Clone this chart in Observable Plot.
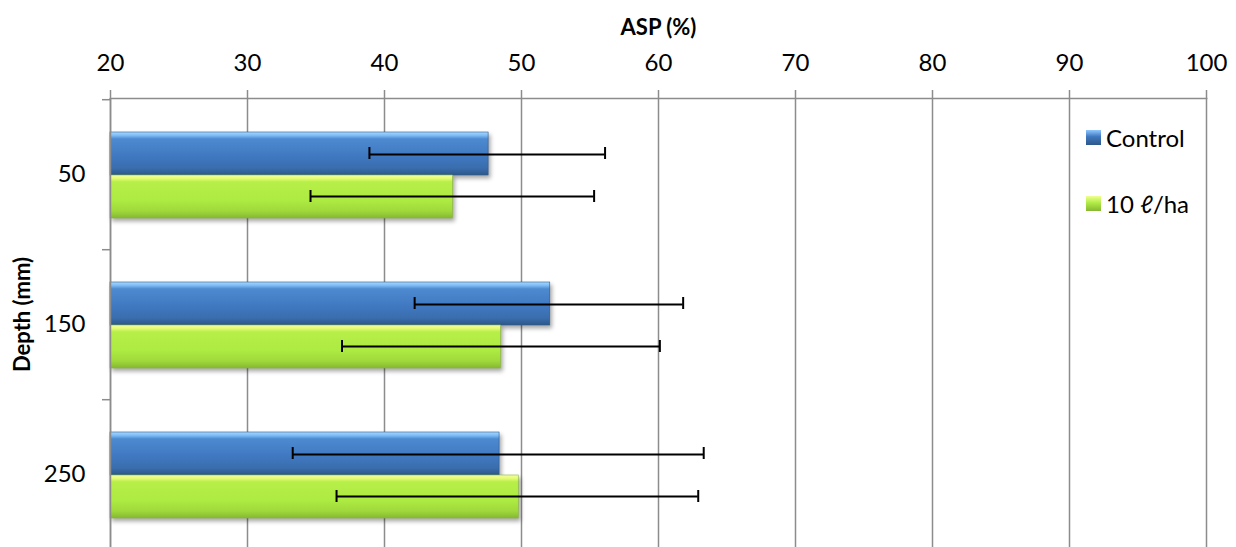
<!DOCTYPE html>
<html>
<head>
<meta charset="utf-8">
<script src="https://cdn.jsdelivr.net/npm/d3@7"></script>
<script src="https://cdn.jsdelivr.net/npm/@observablehq/plot@0.6"></script>
<style>
  html, body { margin: 0; padding: 0; background: #fff; overflow: hidden; }
  #wrap { position: relative; width: 1236px; height: 547px; font-family: Lato, "Open Sans", sans-serif; }
  .leg { position: absolute; display: flex; align-items: center; font-size: 24px; color: #000; white-space: nowrap; }
  .sw { width: 15px; height: 15px; margin-right: 5px; }
</style>
</head>
<body>
<div id="wrap"></div>
<script>
const depths = ["50", "150", "250"];
const seriesNames = ["Control", "10 ℓ/ha"];
const controlMean = [47.6, 52.1, 48.4];
const controlLow  = [38.9, 42.2, 33.3];
const controlHigh = [56.1, 61.8, 63.3];
const treatMean   = [45.0, 48.5, 49.8];
const treatLow    = [34.6, 36.9, 36.5];
const treatHigh   = [55.3, 60.1, 62.9];
const xTicks = [20, 30, 40, 50, 60, 70, 80, 90, 100];
const xLabel = "ASP (%)";
const yLabel = "Depth (mm)";

const control = depths.map((d, i) => ({depth: d, mean: controlMean[i], lo: controlLow[i], hi: controlHigh[i]}));
const treat = depths.map((d, i) => ({depth: d, mean: treatMean[i], lo: treatLow[i], hi: treatHigh[i]}));
const xMin = xTicks[0];
const grey = "#8c8c8c";
const shadow = "drop-shadow(2px 3px 2px rgba(0,0,0,0.35))";

const chart = Plot.plot({
  width: 1236,
  height: 550,
  marginTop: 98,
  marginLeft: 110,
  marginRight: 30,
  marginBottom: 0,
  style: {fontFamily: 'Lato, "Open Sans", sans-serif', fontSize: "24px", color: "#000", background: "#fff"},
  x: {domain: [xTicks[0], xTicks[xTicks.length - 1]]},
  y: {domain: depths, padding: 0},
  marks: [
    Plot.gridX(xTicks, {stroke: grey, strokeOpacity: 1, strokeWidth: 1.5}),
    Plot.frame({anchor: "top", stroke: grey, strokeWidth: 1.5}),
    Plot.axisX({anchor: "top", ticks: xTicks, tickSize: 9, tickPadding: 19, stroke: grey, strokeWidth: 1.5, label: null, fontSize: 24, fill: "#000"}),
    Plot.axisY({anchor: "left", tickSize: 0, tickPadding: 25, label: null, fontSize: 24, fill: "#000"}),
    Plot.axisY({anchor: "left", tickSize: 8, tickFormat: () => "", label: null, stroke: grey, strokeWidth: 1.5, dy: -74.8}),
    Plot.barX(control, {y: "depth", x1: xMin, x2: "mean", fill: "url(#gBlue)", stroke: "#2f5a8c", strokeWidth: 0.6, insetTop: 33, insetBottom: 74, imageFilter: shadow}),
    Plot.barX(treat, {y: "depth", x1: xMin, x2: "mean", fill: "url(#gGreen)", stroke: "#88b838", strokeWidth: 0.6, insetTop: 76, insetBottom: 31, imageFilter: shadow}),
    Plot.ruleX([xMin], {stroke: grey, strokeWidth: 1.5}),
    Plot.ruleY(control, {y: "depth", x1: "lo", x2: "hi", stroke: "#000", strokeWidth: 2, dy: -20}),
    Plot.tickX(control, {y: "depth", x: "lo", stroke: "#000", strokeWidth: 2, insetTop: 48, insetBottom: 90}),
    Plot.tickX(control, {y: "depth", x: "hi", stroke: "#000", strokeWidth: 2, insetTop: 48, insetBottom: 90}),
    Plot.ruleY(treat, {y: "depth", x1: "lo", x2: "hi", stroke: "#000", strokeWidth: 2, dy: 22}),
    Plot.tickX(treat, {y: "depth", x: "lo", stroke: "#000", strokeWidth: 2, insetTop: 91, insetBottom: 47}),
    Plot.tickX(treat, {y: "depth", x: "hi", stroke: "#000", strokeWidth: 2, insetTop: 91, insetBottom: 47}),
    Plot.text([xLabel], {frameAnchor: "top", dy: -79, fontWeight: "bold", fontSize: 22, fill: "#000"}),
    Plot.text([yLabel], {frameAnchor: "left", textAnchor: "middle", dx: -88, dy: -10, rotate: -90, fontWeight: "bold", fontSize: 22, fill: "#000"})
  ]
});

const svg = d3.select(chart);
const defs = svg.insert("defs", ":first-child");
function grad(id, stops) {
  const g = defs.append("linearGradient").attr("id", id).attr("x1", 0).attr("y1", 0).attr("x2", 0).attr("y2", 1);
  stops.forEach(([o, c]) => g.append("stop").attr("offset", o).attr("stop-color", c));
}
grad("gBlue", [["0%", "#a8d8ff"], ["8%", "#7dbcf5"], ["16%", "#4d8ad0"], ["60%", "#3f77bf"], ["84%", "#3a6dad"], ["100%", "#2d5888"]]);
grad("gGreen", [["0%", "#f4ff9c"], ["8%", "#e4fb74"], ["16%", "#b6ef48"], ["60%", "#adea42"], ["84%", "#9fd83c"], ["100%", "#86b832"]]);

const wrap = document.getElementById("wrap");
wrap.appendChild(chart);

const legendItems = [
  {name: seriesNames[0], top: 123, bg: "linear-gradient(#8fc8ff, #3f77bf 45%, #2d5888)"},
  {name: seriesNames[1], top: 189, bg: "linear-gradient(#f0ff90, #b0ec46 45%, #86b832)"}
];
legendItems.forEach(it => {
  const d = document.createElement("div");
  d.className = "leg";
  d.style.left = "1086px";
  d.style.top = it.top + "px";
  d.innerHTML = `<span class="sw" style="background:${it.bg}"></span><span></span>`;
  d.lastChild.textContent = it.name;
  wrap.appendChild(d);
});
</script>
</body>
</html>
